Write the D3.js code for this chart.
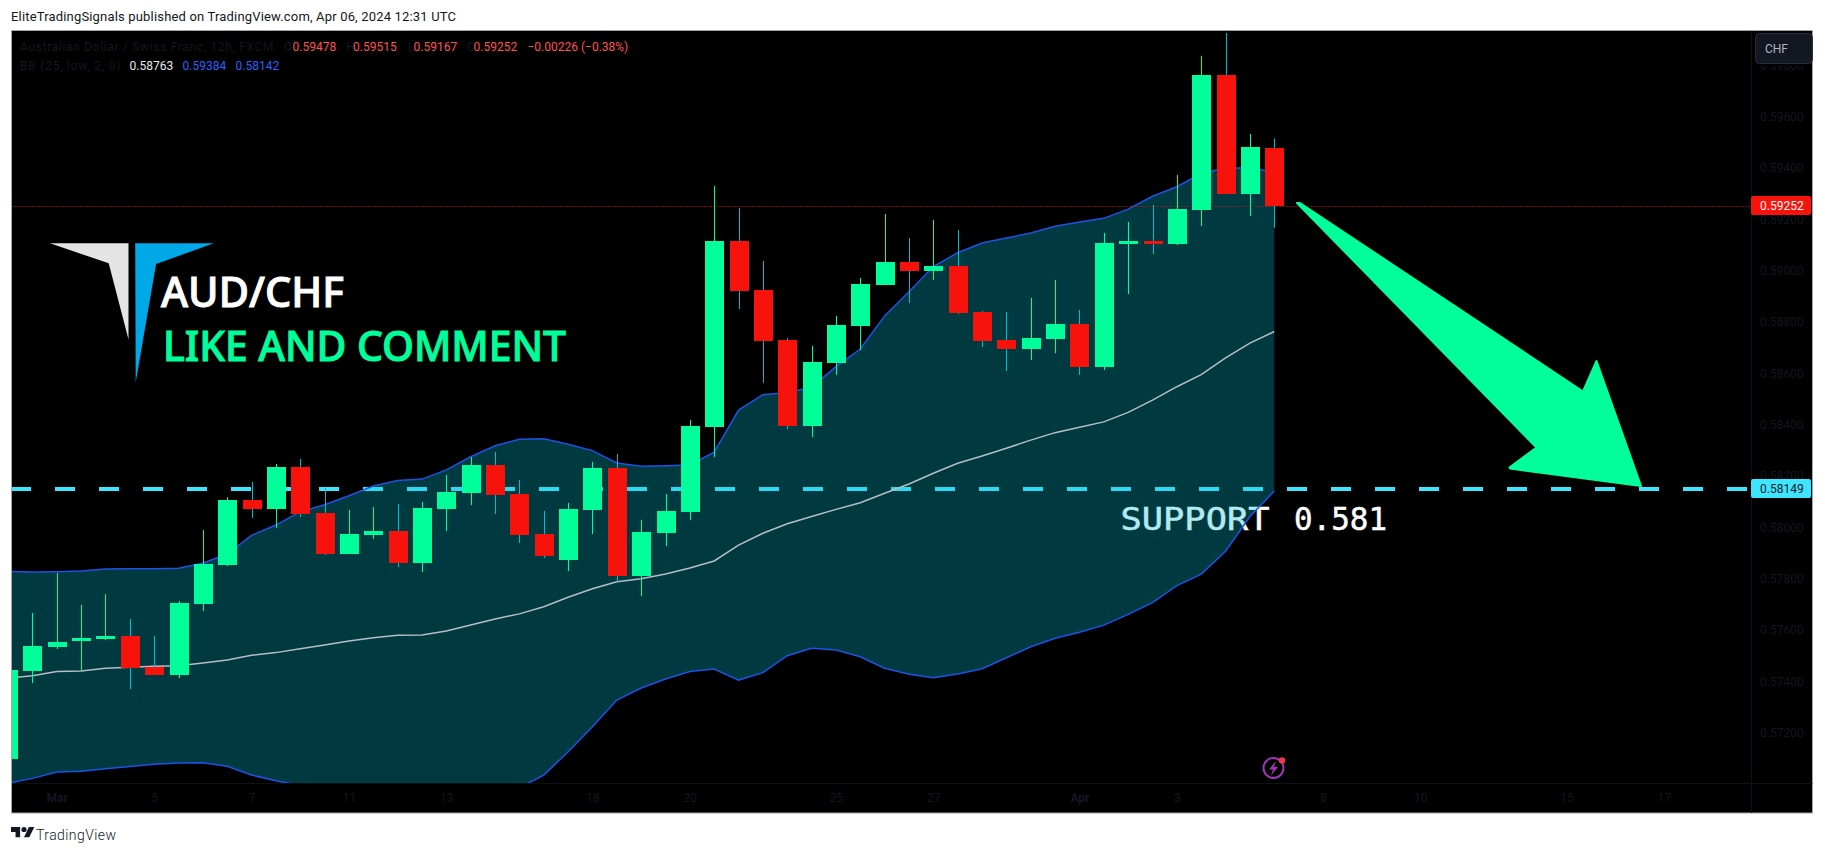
<!DOCTYPE html>
<html><head><meta charset="utf-8">
<style>html,body{margin:0;padding:0;background:#fff;overflow:hidden}svg{display:block}text{font-family:Roboto,sans-serif}</style>
<script src="https://cdn.jsdelivr.net/npm/d3@7"></script></head><body>
<script>
const open=[.57098,.57440,.57534,.57557,.57565,.57577,.57456,.57425,.57701,.57853,.58107,.58072,.58235,.58056,.57896,.57970,.57986,.57861,.58072,.58134,.58243,.58130,.57974,.57873,.58068,.58231,.57812,.57978,.58060,.58391,.59116,.58925,.58730,.58395,.58640,.58785,.58944,.59034,.58999,.59018,.58839,.58730,.58695,.58734,.58792,.58625,.59104,.59116,.59104,.59237,.59763,.59299,.59478];
const high=[.57450,.57666,.57822,.57698,.57740,.57643,.57577,.57713,.57990,.58118,.58177,.58247,.58266,.58153,.58068,.58079,.58091,.58099,.58204,.58274,.58294,.58185,.58064,.58095,.58255,.58286,.58029,.58130,.58418,.59330,.59244,.59038,.58738,.58707,.58824,.58972,.59221,.59127,.59198,.59159,.58843,.58839,.58894,.58964,.58847,.59147,.59190,.59256,.59373,.59837,.59926,.59533,.59515];
const low=[.57090,.57394,.57526,.57444,.57561,.57370,.57425,.57413,.57674,.57849,.58037,.57998,.58040,.57892,.57896,.57955,.57846,.57826,.57986,.58087,.58052,.57939,.57881,.57830,.57974,.57788,.57733,.57927,.58029,.58274,.58851,.58563,.58383,.58352,.58594,.58691,.58944,.58874,.58964,.58831,.58703,.58609,.58652,.58679,.58594,.58613,.58909,.59065,.59100,.59174,.59299,.59213,.59167];
const close=[.57444,.57538,.57553,.57569,.57577,.57452,.57425,.57705,.57857,.58107,.58072,.58235,.58052,.57896,.57974,.57986,.57861,.58075,.58138,.58243,.58126,.57970,.57888,.58072,.58231,.57812,.57982,.58064,.58395,.59116,.58921,.58726,.58395,.58644,.58789,.58948,.59034,.58999,.59018,.58835,.58726,.58695,.58738,.58792,.58625,.59108,.59116,.59104,.59240,.59763,.59299,.59482,.59252];
const bbUpper=[.57829,.57826,.57827,.57830,.57838,.57839,.57839,.57841,.57860,.57896,.57969,.58009,.58061,.58088,.58123,.58161,.58183,.58188,.58224,.58275,.58318,.58343,.58345,.58324,.58299,.58251,.58238,.58240,.58243,.58293,.58457,.58517,.58525,.58546,.58626,.58695,.58824,.58918,.59016,.59070,.59108,.59127,.59147,.59173,.59190,.59204,.59240,.59290,.59327,.59379,.59400,.59400,.59384];
const bbBasis=[.57412,.57422,.57438,.57440,.57451,.57455,.57459,.57461,.57472,.57483,.57502,.57512,.57527,.57542,.57557,.57570,.57580,.57581,.57596,.57620,.57643,.57663,.57691,.57728,.57761,.57788,.57800,.57818,.57842,.57869,.57931,.57977,.58014,.58042,.58070,.58096,.58133,.58169,.58211,.58250,.58278,.58308,.58340,.58369,.58390,.58411,.58448,.58496,.58548,.58595,.58660,.58718,.58763];
const bbLower=[.57003,.57022,.57047,.57050,.57060,.57068,.57077,.57082,.57083,.57069,.57035,.57013,.56994,.56977,.56957,.56942,.56930,.56926,.56938,.56957,.56977,.56985,.57035,.57126,.57223,.57327,.57374,.57409,.57438,.57448,.57405,.57434,.57500,.57529,.57522,.57496,.57451,.57428,.57414,.57429,.57449,.57492,.57535,.57568,.57591,.57619,.57661,.57707,.57773,.57818,.57907,.58042,.58142];
const priceTicks=[.572,.574,.576,.578,.58,.582,.584,.586,.588,.59,.592,.594,.596,.598];
const timeTickIndex=[2,6,10,14,18,24,28,34,38,44,48,54,58,64,68];
const timeTickLabels=["Mar","5","7","11","13","18","20","25","27","Apr","3","8","10","15","17"];
const lastPrice=.59252, supportPrice=.58149;

const W=1825,H=853,L=11.5,T=30.5,PR=1751,PB=783,R=1812.5,B=813;
const GREEN="#00ff9a",RED="#f7120c",WICKDOWN="#00bcd4",DARK="#131722",CYAN="#3ee5ff";
const x=d3.scaleLinear().domain([0,52]).range([8.05,1274.25]);
const y=d3.scaleLinear().domain([.572,.596]).range([732.7,116.7]);
const svg=d3.select("body").append("svg").attr("width",W).attr("height",H);
svg.append("rect").attr("width",W).attr("height",H).attr("fill","#fff");
svg.append("rect").attr("x",L).attr("y",T).attr("width",R-L).attr("height",B-T).attr("fill","#000").attr("stroke","#a3a6af");
svg.append("clipPath").attr("id","pane").append("rect").attr("x",L+.5).attr("y",T+.5).attr("width",PR-L).attr("height",PB-T);
const pane=svg.append("g").attr("clip-path","url(#pane)");

// support line + label sit beneath the translucent band
pane.append("line").attr("x1",11).attr("x2",PR).attr("y1",y(supportPrice)).attr("y2",y(supportPrice))
  .attr("stroke",CYAN).attr("stroke-width",4).attr("stroke-dasharray","20 24");
const mono=(t,xx,len)=>pane.append("text").attr("x",xx).attr("y",530).attr("textLength",len).attr("lengthAdjust","spacingAndGlyphs").text(t).attr("fill","#fff")
  .attr("stroke","#fff").attr("stroke-width",.5).style("font-family","'DejaVu Sans Mono'").style("font-size","32px");
mono("SUPPORT",1120.5,149);
mono("0.581",1294,93);

const idx=d3.range(open.length);
pane.append("path").attr("d",d3.area().x(i=>x(i)).y0(i=>y(bbLower[i])).y1(i=>y(bbUpper[i]))(idx)).attr("fill","rgba(0,188,212,.305)");
const ln=a=>d3.line().x(i=>x(i)).y(i=>y(a[i]))(idx);
pane.append("path").attr("d",ln(bbBasis)).attr("fill","none").attr("stroke","#b8bcc4").attr("stroke-width",1.5);
pane.append("path").attr("d",ln(bbUpper)).attr("fill","none").attr("stroke","#1e53e5").attr("stroke-width",1.5);
pane.append("path").attr("d",ln(bbLower)).attr("fill","none").attr("stroke","#1e53e5").attr("stroke-width",1.5);

pane.append("line").attr("x1",L).attr("x2",PR).attr("y1",Math.floor(y(lastPrice))+.5).attr("y2",Math.floor(y(lastPrice))+.5)
  .attr("stroke",RED).attr("stroke-dasharray","1 2");

const up=i=>close[i]>=open[i];
pane.selectAll("line.wick").data(idx).join("line").attr("class","wick")
  .attr("x1",i=>Math.round(x(i))+.5).attr("x2",i=>Math.round(x(i))+.5)
  .attr("y1",i=>y(high[i])).attr("y2",i=>y(low[i])).attr("stroke",i=>up(i)?GREEN:WICKDOWN);
pane.selectAll("rect.body").data(idx).join("rect").attr("class","body")
  .attr("x",i=>Math.round(x(i))-9).attr("width",19)
  .attr("y",i=>Math.round(y(Math.max(open[i],close[i]))))
  .attr("height",i=>Math.max(3,Math.round(Math.abs(y(open[i])-y(close[i])))))
  .attr("fill",i=>up(i)?GREEN:RED);

// axes
svg.append("line").attr("x1",PR+.5).attr("x2",PR+.5).attr("y1",T+.5).attr("y2",B).attr("stroke","#0f1117");
svg.append("line").attr("x1",L+.5).attr("x2",R).attr("y1",PB+.5).attr("y2",PB+.5).attr("stroke","#0f1117");
const yAxis=svg.append("g").attr("transform",`translate(${PR},0)`).call(d3.axisRight(y).tickValues(priceTicks).tickSize(0).tickPadding(9).tickFormat(d3.format(".5f")));
yAxis.select(".domain").remove();
yAxis.selectAll("text").attr("fill",DARK).style("font-size","12px");
const xAxis=svg.append("g").attr("transform",`translate(0,${PB})`).call(d3.axisBottom(x).tickValues(timeTickIndex).tickSize(0).tickPadding(10).tickFormat((d,i)=>timeTickLabels[i]));
xAxis.select(".domain").remove();
xAxis.selectAll("text").attr("fill",DARK).style("font-size","12px").style("font-weight",(d,i)=>/[A-Z]/.test(timeTickLabels[i])?700:400);

// price labels
function tag(p,fill,col){const c=Math.round(y(p));
  svg.append("rect").attr("x",PR).attr("y",c-10).attr("width",60).attr("height",19).attr("rx",2).attr("fill",fill);
  svg.append("text").attr("x",PR+9).attr("y",c+4).attr("fill",col).style("font-size","12px").text(d3.format(".5f")(p));}
tag(lastPrice,RED,"#fff"); tag(supportPrice,CYAN,"#131722");
svg.append("rect").attr("x",PR+1).attr("y",T+.5).attr("width",R-PR-1.5).attr("height",34.5).attr("fill","#000");
svg.append("rect").attr("x",1755.5).attr("y",33.5).attr("width",57).attr("height",30).attr("rx",4).attr("fill","#131722").attr("stroke","#2a2e39");
svg.append("text").attr("x",1765).attr("y",53).attr("fill","#b2b5be").style("font-size","12px").text("CHF");

// header, legend
svg.append("text").attr("x",11).attr("y",21).attr("fill","#131722").attr("textLength",445).style("font-size","13px").text("EliteTradingSignals published on TradingView.com, Apr 06, 2024 12:31 UTC");
const leg=(t,xx,yy,c,len)=>{const e=svg.append("text").attr("x",xx).attr("y",yy).attr("fill",c).style("font-size","12px").text(t); if(len)e.attr("textLength",len);};
leg("Australian Dollar / Swiss Franc, 12h, FXCM",20,51,DARK,253.5);
leg("O",284,51,DARK);leg("0.59478",292.5,51,"#ff5252");
leg("H",346,51,DARK);leg("0.59515",353,51,"#ff5252");
leg("L",408,51,DARK);leg("0.59167",413.5,51,"#ff5252");
leg("C",467,51,DARK);leg("0.59252",473.5,51,"#ff5252");
leg("−0.00226 (−0.38%)",527.5,51,"#ff5252");
leg("BB (25, low, 2, 0)",20,70,DARK,100.5);
leg("0.58763",129.5,70,"#e6e8ee");leg("0.59384",182.5,70,"#2962ff");leg("0.58142",235.5,70,"#2962ff");

// logo and captions
const poly=(p,c)=>svg.append("polygon").attr("points",p).attr("fill",c);
poly("50,243.3 128.5,243.3 128.5,339.5 108.7,263.3","#e4e4e4");
poly("135.2,243.3 213.8,243.3 156.1,264 135.7,382.5","#00a8e8");
const cap=(t,xx,yy,c,len)=>svg.append("text").attr("x",xx).attr("y",yy).attr("fill",c).attr("textLength",len).attr("lengthAdjust","spacingAndGlyphs")
  .attr("stroke",c).attr("stroke-width",1).style("font-family","'Noto Sans'").style("font-size","42px").style("font-weight",500).text(t);
cap("AUD/CHF",161,306.5,"#fff",183);
cap("LIKE AND COMMENT",163,360.5,GREEN,403);

// forecast arrow
svg.append("polygon").attr("points","1297,203 1300,203 1583,391.5 1596.5,361 1641,486 1510,468.5 1509.5,467.5 1536.5,447.5")
  .attr("fill",GREEN).attr("stroke",GREEN).attr("stroke-width",2).attr("stroke-linejoin","round");

// bolt badge
svg.append("circle").attr("cx",1273.5).attr("cy",768).attr("r",10).attr("fill","none").attr("stroke","#9c37b5").attr("stroke-width",2);
poly("1276,761 1269,769.5 1273,769.5 1271,775.5 1278,767 1274,767","#9c37b5");
svg.append("circle").attr("cx",1282).attr("cy",760.5).attr("r",3.2).attr("fill","#f23645");

// footer
svg.append("path").attr("transform","translate(11,823) scale(.65)").attr("fill","#131722")
  .attr("d","M14 22H7V14H0V6h14v16ZM28 22h-8l7.5-16H36L28 22ZM20 6a4 4 0 1 1 0 8 4 4 0 0 1 0-8Z");
svg.append("text").attr("x",36).attr("y",840).attr("fill","#131722").attr("textLength",80).style("font-size","14px").style("font-weight",300).text("TradingView");
</script></body></html>
